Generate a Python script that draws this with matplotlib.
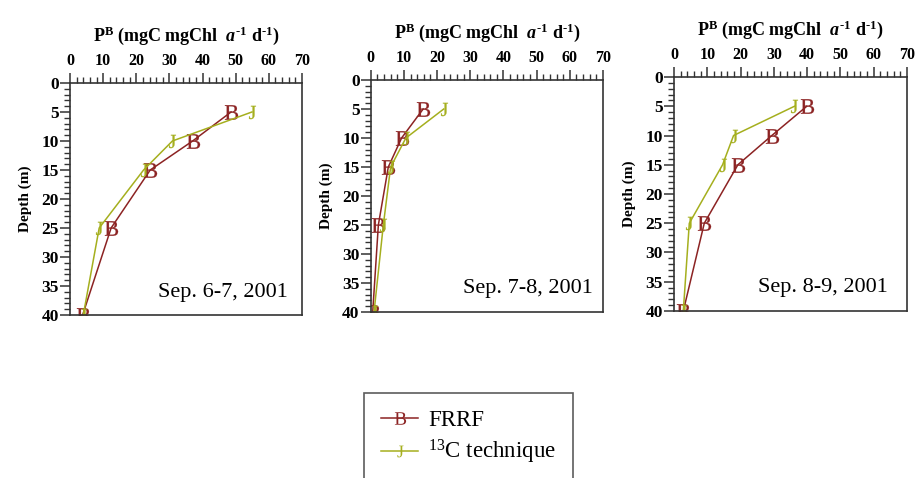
import matplotlib
matplotlib.use('Agg')
import matplotlib.pyplot as plt
from matplotlib.ticker import MultipleLocator
from matplotlib.lines import Line2D

plt.rcParams['font.family'] = ['Liberation Serif', 'DejaVu Serif']
plt.rcParams['mathtext.fontset'] = 'custom'
plt.rcParams['mathtext.rm'] = 'Liberation Serif'
plt.rcParams['mathtext.it'] = 'Liberation Serif:italic:bold'
plt.rcParams['mathtext.bf'] = 'Liberation Serif:bold'

# Datos
profundidad = [5, 10, 15, 25, 40]
fechas = ['Sep. 6-7, 2001', 'Sep. 7-8, 2001', 'Sep. 8-9, 2001']
frrf = [
    [48.6, 37.0, 24.2, 12.4, 3.8],
    [15.8, 9.3, 5.3, 2.3, 0.6],
    [39.9, 29.4, 19.2, 9.1, 2.8],
]
c13 = [
    [54.9, 30.9, 22.2, 8.8, 4.0],
    [22.0, 10.6, 6.0, 3.8, 1.0],
    [36.2, 17.9, 14.6, 4.6, 2.8],
]

col_frrf = '#8c2323'
col_c13 = '#a5af1e'

fig = plt.figure(figsize=(9.19, 4.78), dpi=100)

# posiciones de los paneles (fracciones de la figura)
cajas = [
    [0.0762, 0.341, 0.2524, 0.4854],
    [0.4034, 0.3473, 0.2527, 0.4853],
    [0.7334, 0.3494, 0.2535, 0.4895],
]
pos_texto = [(0.94, 0.095), (0.955, 0.10), (0.918, 0.10)]

titulo = (r'P$^{\mathbf{B}}$ (mgC mgChl  $\mathit{a}^{\mathbf{\text{-}1}}$ '
          r'd$^{\mathbf{\text{-}1}}$)')

for i in range(3):
    ax = fig.add_axes(cajas[i])
    ax.plot(frrf[i], profundidad, color=col_frrf, lw=1.1,
            marker=r'$\mathrm{B}$', ms=10.5, mec=col_frrf, mfc=col_frrf, mew=0.2)
    ax.plot(c13[i], profundidad, color=col_c13, lw=1.1,
            marker=r'$\mathrm{J}$', ms=9.5, mec=col_c13, mfc=col_c13, mew=0.2)
    ax.set_xlim(0, 70)
    ax.set_ylim(40, 0)
    ax.xaxis.set_major_locator(MultipleLocator(10))
    ax.xaxis.set_minor_locator(MultipleLocator(2))
    ax.yaxis.set_major_locator(MultipleLocator(5))
    ax.yaxis.set_minor_locator(MultipleLocator(1))
    ax.xaxis.tick_top()
    ax.xaxis.set_label_position('top')
    ax.tick_params(axis='both', which='major', direction='out', length=7, width=1.1, color='#333333')
    ax.tick_params(axis='both', which='minor', direction='out', length=4, width=1.0, color='#333333')
    ax.tick_params(axis='x', labelsize=11.5, pad=3)
    ax.tick_params(axis='y', labelsize=12.5, pad=1)
    for lab in ax.get_xticklabels() + ax.get_yticklabels():
        lab.set_fontweight('bold')
    for s in ax.spines.values():
        s.set_linewidth(1.2)
        s.set_color('#333333')
    ax.set_xlabel(titulo, fontsize=13, fontweight='bold', labelpad=9)
    ax.set_ylabel('Depth (m)', fontsize=11, fontweight='bold', labelpad=7)
    ax.text(pos_texto[i][0], pos_texto[i][1], fechas[i], transform=ax.transAxes,
            ha='right', va='center', fontsize=16)
    ax.set_facecolor('white')

handles = [
    Line2D([], [], color=col_frrf, lw=1.1, marker=r'$\mathrm{B}$', ms=9, mec=col_frrf, mfc=col_frrf, mew=0),
    Line2D([], [], color=col_c13, lw=1.1, marker=r'$\mathrm{J}$', ms=8.5, mec=col_c13, mfc=col_c13, mew=0),
]
leg = fig.legend(handles, ['FRRF', r'$^{13}$C technique'], loc='upper left',
                 bbox_to_anchor=(364 / 919, 1 - 393 / 478), borderaxespad=0,
                 fontsize=16.5, frameon=True, fancybox=False, borderpad=0.75,
                 handlelength=1.6, handletextpad=0.45, labelspacing=0.3)
leg.get_frame().set_edgecolor('#333333')
leg.get_frame().set_linewidth(1.2)

fig.savefig('out.png', dpi=100, facecolor='white')
